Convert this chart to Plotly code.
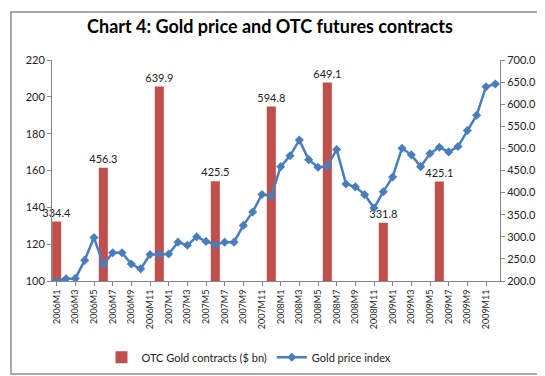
import plotly.graph_objects as go

months = [
    "2006M1", "2006M2", "2006M3", "2006M4", "2006M5", "2006M6", "2006M7", "2006M8", "2006M9", "2006M10", "2006M11", "2006M12",
    "2007M1", "2007M2", "2007M3", "2007M4", "2007M5", "2007M6", "2007M7", "2007M8", "2007M9", "2007M10", "2007M11", "2007M12",
    "2008M1", "2008M2", "2008M3", "2008M4", "2008M5", "2008M6", "2008M7", "2008M8", "2008M9", "2008M10", "2008M11", "2008M12",
    "2009M1", "2009M2", "2009M3", "2009M4", "2009M5", "2009M6", "2009M7", "2009M8", "2009M9", "2009M10", "2009M11", "2009M12",
]

gold_index = [
    100.0, 101.2, 101.4, 111.2, 123.6, 108.9, 115.3, 115.3, 109.2, 106.6, 114.4, 114.4,
    114.7, 121.1, 119.4, 124.0, 121.5, 119.7, 121.1, 121.1, 130.2, 137.5, 147.0, 146.2,
    162.1, 168.0, 176.5, 165.9, 161.8, 162.3, 171.4, 152.7, 151.1, 146.9, 139.6, 148.5,
    156.5, 172.1, 168.5, 162.1, 169.2, 172.6, 170.1, 173.0, 181.7, 190.0, 205.5, 207.0,
]

bar_months = ["2006M1", "2006M6", "2006M12", "2007M6", "2007M12", "2008M6", "2008M12", "2009M6"]
bar_values = [334.4, 456.3, 639.9, 425.5, 594.8, 649.1, 331.8, 425.1]

tick_labels = [m for m in months if m.split("M")[1] in ("1", "3", "5", "7", "9", "11")]

W, H = 545, 376
ML, MR, MT, MB = 44, 53, 52, 98
pw, ph = W - ML - MR, H - MT - MB

FONT = "Lato, 'Open Sans', sans-serif"
AXIS_COLOR = "#868686"
TEXT_COLOR = "#222222"

fig = go.Figure()
fig.add_trace(go.Bar(
    x=bar_months, y=bar_values, name="OTC Gold contracts ($ bn)",
    marker=dict(color="#C0504D", line=dict(width=0)),
    text=[f"{v:.1f}" for v in bar_values], textposition="outside",
    constraintext="none",
    textfont=dict(family=FONT, size=11, color=TEXT_COLOR),
    cliponaxis=False, yaxis="y",
))
fig.add_trace(go.Scatter(
    x=months, y=gold_index, name="Gold price index", mode="lines+markers",
    line=dict(color="#4A7EBB", width=2.5),
    marker=dict(symbol="diamond", size=7, color="#4A7EBB"),
    yaxis="y2",
))

x0 = (3 - ML) / pw
x1 = (541 - ML) / pw
y0 = (H - MB - 373) / ph
y1 = (H - MB - 3) / ph

fig.update_layout(
    width=W, height=H,
    margin=dict(l=ML, r=MR, t=MT, b=MB),
    paper_bgcolor="white", plot_bgcolor="white",
    font=dict(family=FONT, color=TEXT_COLOR),
    title=dict(text="<b>Chart 4: Gold price and OTC futures contracts</b>",
               x=262 / W, xanchor="center", y=1 - 19 / H, yanchor="middle",
               xref="container", yref="container",
               font=dict(family=FONT, size=18, color="#000000")),
    bargap=0.03,
    showlegend=True,
    legend=dict(orientation="h", x=(241 - ML) / pw, xanchor="center",
                y=(H - MB - 356) / ph, yanchor="middle",
                font=dict(family=FONT, size=11, color=TEXT_COLOR),
                itemwidth=30,
                bgcolor="rgba(0,0,0,0)", traceorder="normal"),
    xaxis=dict(type="category", categoryorder="array", categoryarray=months,
               range=[-0.5, len(months) - 0.5],
               tickmode="array", tickvals=tick_labels, ticktext=tick_labels,
               tickangle=-90, tickfont=dict(family=FONT, size=9, color=TEXT_COLOR),
               showline=True, linecolor=AXIS_COLOR, linewidth=1,
               ticks="outside", ticklen=4, tickcolor=AXIS_COLOR,
               showgrid=False, zeroline=False),
    yaxis=dict(side="right", range=[200, 700], dtick=50, tickformat=".1f",
               showline=True, linecolor=AXIS_COLOR, linewidth=1,
               ticks="outside", ticklen=4, tickcolor=AXIS_COLOR,
               tickfont=dict(family=FONT, size=11, color=TEXT_COLOR),
               showgrid=False, zeroline=False),
    yaxis2=dict(side="left", overlaying="y", range=[100, 220], dtick=20,
                showline=True, linecolor=AXIS_COLOR, linewidth=1,
                ticks="outside", ticklen=4, tickcolor=AXIS_COLOR,
                tickfont=dict(family=FONT, size=11, color=TEXT_COLOR),
                showgrid=False, zeroline=False),
    shapes=[dict(type="rect", xref="paper", yref="paper", x0=x0, x1=x1, y0=y0, y1=y1,
                 line=dict(color="#8C8C8C", width=1.5), fillcolor="rgba(0,0,0,0)", layer="below")],
)

fig.write_html("out.html")
